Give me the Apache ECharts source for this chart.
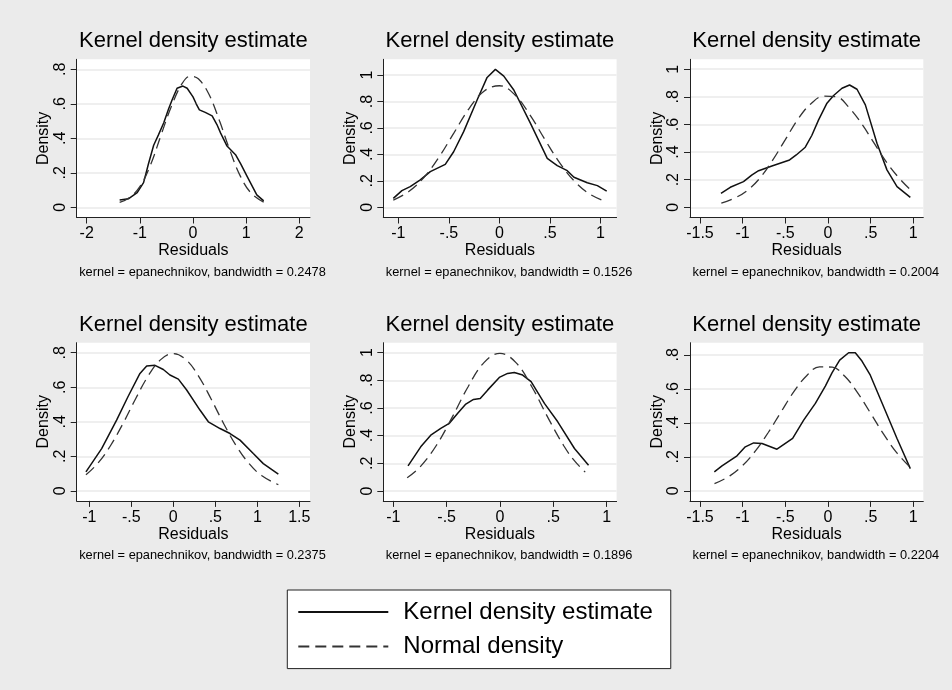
<!DOCTYPE html>
<html>
<head>
<meta charset="utf-8">
<script src="https://cdn.jsdelivr.net/npm/echarts@6/dist/echarts.min.js"></script>
<style>
  html, body { margin: 0; padding: 0; background: #ebebeb; }
  #main { width: 952px; height: 690px; }
</style>
</head>
<body>
<div id="main"></div>
<script>
// kernel density estimates (solid), [residual, density]
const kde1 = [[-1.38,.042],[-1.21,.05],[-1.05,.085],[-0.93,.143],[-0.84,.25],[-0.74,.36],[-0.65,.42],[-0.55,.49],[-0.46,.57],[-0.39,.625],[-0.30,.69],[-0.19,.703],[-0.11,.69],[0.0,.64],[0.06,.60],[0.12,.565],[0.23,.55],[0.36,.53],[0.45,.48],[0.52,.43],[0.64,.355],[0.8,.305],[0.9,.25],[1.02,.178],[1.2,.072],[1.33,.037]];
const kde2 = [[-1.05,.068],[-0.965,.126],[-0.883,.156],[-0.783,.207],[-0.684,.27],[-0.536,.325],[-0.453,.42],[-0.354,.572],[-0.221,.811],[-0.122,.982],[-0.04,1.043],[0.043,.992],[0.142,.887],[0.307,.635],[0.473,.37],[0.572,.315],[0.671,.277],[0.737,.227],[0.869,.186],[0.969,.164],[1.061,.123]];
const kde3 = [[-1.254,.101],[-1.145,.145],[-0.99,.186],[-0.89,.235],[-0.813,.265],[-0.657,.299],[-0.45,.343],[-0.372,.379],[-0.266,.435],[-0.19,.52],[-0.11,.633],[-0.012,.754],[0.066,.81],[0.164,.862],[0.253,.886],[0.34,.855],[0.438,.742],[0.574,.464],[0.691,.271],[0.809,.15],[0.965,.072]];
const kde4 = [[-1.04,.11],[-0.853,.245],[-0.675,.41],[-0.54,.545],[-0.397,.68],[-0.317,.723],[-0.218,.727],[-0.119,.703],[-0.04,.671],[0.06,.647],[0.159,.584],[0.317,.468],[0.417,.40],[0.556,.361],[0.675,.332],[0.794,.294],[0.952,.216],[1.071,.158],[1.25,.097]];
const kde5 = [[-0.862,.181],[-0.743,.319],[-0.649,.403],[-0.555,.452],[-0.476,.488],[-0.398,.56],[-0.32,.628],[-0.248,.662],[-0.185,.669],[-0.116,.729],[-0.006,.821],[0.072,.85],[0.135,.857],[0.213,.838],[0.292,.79],[0.417,.633],[0.542,.50],[0.699,.307],[0.831,.186]];
const kde6 = [[-1.332,.112],[-1.242,.147],[-1.066,.206],[-0.969,.259],[-0.871,.282],[-0.773,.278],[-0.598,.245],[-0.414,.308],[-0.285,.416],[-0.148,.514],[-0.031,.616],[0.047,.694],[0.137,.769],[0.242,.812],[0.32,.812],[0.398,.763],[0.496,.68],[0.652,.494],[0.809,.308],[0.965,.131]];

// normal densities (dashed)
const norm1 = [[-1.38,.028],[-1.2,.055],[-1.0,.12],[-0.8,.245],[-0.6,.42],[-0.4,.59],[-0.2,.72],[-0.05,.76],[0.1,.745],[0.3,.655],[0.5,.50],[0.7,.325],[0.9,.175],[1.1,.08],[1.33,.03]];
const norm2 = [[-1.05,.055],[-0.9,.118],[-0.75,.223],[-0.6,.377],[-0.45,.563],[-0.3,.747],[-0.15,.88],[0,.919],[0.15,.852],[0.3,.701],[0.45,.512],[0.6,.332],[0.75,.191],[0.9,.097],[1.06,.042]];
const norm3 = [[-1.25,.03],[-1.1,.065],[-0.95,.12],[-0.8,.21],[-0.65,.34],[-0.5,.49],[-0.35,.64],[-0.2,.75],[-0.05,.805],[0.1,.80],[0.25,.72],[0.4,.60],[0.55,.455],[0.7,.315],[0.85,.2],[0.97,.125]];
const norm4 = [[-1.04,.093],[-0.9,.159],[-0.75,.26],[-0.6,.389],[-0.45,.532],[-0.3,.665],[-0.15,.76],[0,.795],[0.15,.76],[0.3,.665],[0.45,.532],[0.6,.389],[0.75,.26],[0.9,.159],[1.05,.089],[1.25,.036]];
const norm5 = [[-0.87,.095],[-0.75,.173],[-0.6,.325],[-0.45,.53],[-0.3,.752],[-0.15,.928],[0,.995],[0.15,.928],[0.3,.752],[0.45,.53],[0.6,.325],[0.7,.217],[0.8,.136]];
const norm6 = [[-1.33,.042],[-1.15,.088],[-1.0,.149],[-0.85,.235],[-0.7,.343],[-0.55,.464],[-0.4,.583],[-0.25,.677],[-0.1,.729],[0.05,.727],[0.2,.672],[0.35,.575],[0.5,.456],[0.65,.335],[0.8,.228],[0.97,.135]];

const xTicks1 = [-2, -1, 0, 1, 2];
const xTicks2 = [-1, -0.5, 0, 0.5, 1];
const xTicks3 = [-1.5, -1, -0.5, 0, 0.5, 1];
const xTicks4 = [-1, -0.5, 0, 0.5, 1, 1.5];
const xTicks5 = [-1, -0.5, 0, 0.5, 1];
const xTicks6 = [-1.5, -1, -0.5, 0, 0.5, 1];
const yTicks1 = [0, 0.2, 0.4, 0.6, 0.8];
const yTicks2 = [0, 0.2, 0.4, 0.6, 0.8, 1];
const yTicks3 = [0, 0.2, 0.4, 0.6, 0.8, 1];
const yTicks4 = [0, 0.2, 0.4, 0.6, 0.8];
const yTicks5 = [0, 0.2, 0.4, 0.6, 0.8, 1];
const yTicks6 = [0, 0.2, 0.4, 0.6, 0.8];

const bandwidths = ['0.2478', '0.1526', '0.2004', '0.2375', '0.1896', '0.2204'];

const panels = [
  {kde: kde1, norm: norm1, xTicks: xTicks1, yTicks: yTicks1, xr: [-2.188, 2.201], yr: [-0.059, 0.858]},
  {kde: kde2, norm: norm2, xTicks: xTicks2, yTicks: yTicks2, xr: [-1.149, 1.159], yr: [-0.077, 1.119]},
  {kde: kde3, norm: norm3, xTicks: xTicks3, yTicks: yTicks3, xr: [-1.617, 1.117], yr: [-0.074, 1.072]},
  {kde: kde4, norm: norm4, xTicks: xTicks4, yTicks: yTicks4, xr: [-1.15, 1.627], yr: [-0.058, 0.858]},
  {kde: kde5, norm: norm5, xTicks: xTicks5, yTicks: yTicks5, xr: [-1.094, 1.094], yr: [-0.072, 1.072]},
  {kde: kde6, norm: norm6, xTicks: xTicks6, yTicks: yTicks6, xr: [-1.617, 1.117], yr: [-0.059, 0.871]}
];

const FONT = '"Liberation Sans", Arial, Helvetica, sans-serif';
const colLeft = [76.7, 383.3, 690];
const rowTop = [59.3, 342.7];
const plotW = 233.3, plotH = 158.2;

// stata style numbers: .5, -.5
const stataNum = v => String(+(+v).toFixed(2)).replace(/^(-?)0\./, '$1.');

const grids = [], xAxes = [], yAxes = [], series = [], titles = [];

panels.forEach((p, i) => {
  const left = colLeft[i % 3], top = rowTop[Math.floor(i / 3)];
  grids.push({left, top, width: plotW, height: plotH, show: true,
    backgroundColor: '#fff', borderWidth: 0});
  xAxes.push({
    type: 'value', gridIndex: i, min: p.xr[0], max: p.xr[1],
    name: 'Residuals', nameLocation: 'middle', nameGap: 24,
    nameTextStyle: {fontSize: 16, color: '#000', fontFamily: FONT},
    axisLine: {show: true, onZero: false, lineStyle: {color: '#222', width: 1}},
    axisTick: {show: true, length: 6, customValues: p.xTicks, lineStyle: {color: '#222'}},
    axisLabel: {customValues: p.xTicks, formatter: stataNum, margin: 8.5,
      fontSize: 16, color: '#000', fontFamily: FONT, hideOverlap: false},
    splitLine: {show: false}
  });
  yAxes.push({
    type: 'value', gridIndex: i, min: p.yr[0], max: p.yr[1],
    name: 'Density', nameLocation: 'middle', nameGap: 22,
    nameTextStyle: {fontSize: 16, color: '#000', fontFamily: FONT},
    axisLine: {show: true, onZero: false, lineStyle: {color: '#222', width: 1}},
    axisTick: {show: true, length: 6, customValues: p.yTicks, lineStyle: {color: '#222'}},
    axisLabel: {customValues: p.yTicks, formatter: stataNum, rotate: 90, margin: 8,
      fontSize: 16, color: '#000', fontFamily: FONT, hideOverlap: false},
    splitLine: {show: true, lineStyle: {color: '#eaeaea', width: 1.5}}
  });
  series.push({
    name: 'Kernel density estimate', type: 'line', xAxisIndex: i, yAxisIndex: i,
    data: p.kde, symbol: 'none', smooth: false,
    lineStyle: {color: '#111', width: 1.5}, itemStyle: {color: '#111'}
  });
  series.push({
    name: 'Normal density', type: 'line', xAxisIndex: i, yAxisIndex: i,
    data: p.norm, symbol: 'none', smooth: 0.4,
    lineStyle: {color: '#333', width: 1.3, type: [11, 6]}, itemStyle: {color: '#333'}
  });
  const rowShift = Math.floor(i / 3) * 283.4;
  titles.push({
    text: 'Kernel density estimate', left: left + plotW / 2, textAlign: 'center',
    top: 30.4 + rowShift, padding: 0,
    textStyle: {fontSize: 22, fontWeight: 'normal', color: '#000', fontFamily: FONT}
  });
  titles.push({
    text: 'kernel = epanechnikov, bandwidth = ' + bandwidths[i], left: left + 2.5,
    textAlign: 'left', top: 265.6 + rowShift, padding: 0,
    textStyle: {fontSize: 12.8, fontWeight: 'normal', color: '#000', fontFamily: FONT}
  });
});

const chart = echarts.init(document.getElementById('main'));
chart.setOption({
  backgroundColor: '#ebebeb',
  animation: false,
  title: titles,
  grid: grids,
  xAxis: xAxes,
  yAxis: yAxes,
  legend: {
    data: ['Kernel density estimate', 'Normal density'],
    orient: 'vertical', left: 287.3, top: 590,
    itemWidth: 90, itemHeight: 14, itemGap: 10.6,
    padding: [10, 18, 10, 10],
    backgroundColor: '#fff', borderColor: '#222', borderWidth: 1,
    selectedMode: false,
    // hide the symbol drawn in the middle of each legend line
    itemStyle: {color: 'rgba(0,0,0,0)', borderWidth: 0, opacity: 0},
    textStyle: {fontSize: 24, color: '#000', fontFamily: FONT, padding: [0, 0, 0, 10]}
  },
  series
});
</script>
</body>
</html>
